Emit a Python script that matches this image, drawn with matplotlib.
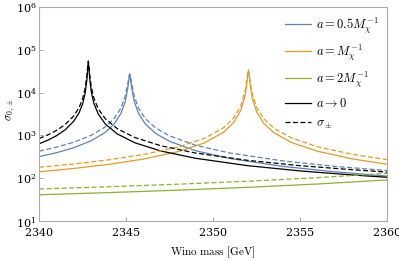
import matplotlib
matplotlib.use("Agg")
import matplotlib.pyplot as plt
from matplotlib.ticker import LogLocator, NullLocator

plt.rcParams['mathtext.fontset'] = 'cm'
plt.rcParams['font.family'] = 'serif'
plt.rcParams['font.serif'] = ['DejaVu Serif']
plt.rcParams['axes.formatter.use_mathtext'] = True

# a -> 0 (black)
m_black = [2340, 2340.5, 2341, 2341.5, 2342, 2342.3, 2342.5, 2342.65, 2342.75, 2342.8, 2342.83,
           2342.86, 2342.91, 2343.0, 2343.15, 2343.4, 2343.8, 2344.5, 2345.5, 2347, 2349, 2352,
           2355, 2358, 2360]
s_black = [636, 773, 984, 1353, 2167, 3389, 5422, 9804, 20520, 38380, 50000,
           38380, 20520, 10357, 5590, 3158, 1856, 1078, 674, 432, 292, 196,
           148, 119, 105]
s_black_pm = [845, 1026, 1306, 1797, 2876, 4494, 7180, 12905, 26235, 45180, 55000,
              45180, 26235, 13618, 7400, 4181, 2461, 1431, 895, 573, 387, 261,
              196, 158, 139]

# a = 0.5 / M (blue)
m_blue = [2340, 2341, 2342, 2343, 2343.8, 2344.3, 2344.7, 2344.95, 2345.1, 2345.18, 2345.21,
          2345.24, 2345.32, 2345.47, 2345.72, 2346.1, 2346.7, 2347.5, 2349, 2351, 2354,
          2357, 2360]
s_blue = [319, 394, 517, 751, 1176, 1820, 3230, 6200, 13040, 23480, 26000,
          23480, 13040, 6200, 3230, 1860, 1113, 725, 438, 287, 189,
          141, 112]
s_blue_pm = [428, 530, 695, 1008, 1579, 2441, 4318, 8187, 16310, 25750, 27500,
             25750, 16310, 8187, 4318, 2495, 1496, 974, 588, 385, 254,
             189, 151]

# a = 1 / M (orange)
m_orange = [2340, 2342, 2344, 2346, 2348, 2349.5, 2350.6, 2351.2, 2351.6, 2351.85, 2351.96,
            2352.0, 2352.03, 2352.06, 2352.12, 2352.25, 2352.5, 2352.9, 2353.5, 2354.5,
            2356, 2358, 2360]
s_orange = [141, 169, 211, 280, 419, 668, 1181, 2032, 3901, 9008, 19270,
            27790, 32000, 27790, 16190, 7468, 3573, 1939, 1150, 684,
            426, 283, 212]
s_orange_pm = [180, 215, 269, 358, 536, 854, 1509, 2595, 4970, 11321, 22905,
               30860, 34000, 30860, 19636, 9436, 4555, 2476, 1469, 874,
               544, 362, 271]

# a = 2 / M (green)
m_green = [2340, 2344, 2348, 2352, 2356, 2360]
s_green = [41, 46.1, 52.6, 61.2, 73.2, 91]
s_green_pm = [56, 63.2, 72.5, 85.1, 102.9, 130]

c_blue = '#5E81B5'
c_orange = '#E19C24'
c_green = '#8FB032'
c_black = '#000000'

fig = plt.figure(figsize=(3.99, 2.60), dpi=100)
ax = fig.add_axes([0.098, 0.150, 0.872, 0.823])

lw = 0.9
dash = (0, (4, 2))
ax.plot(m_blue, s_blue, color=c_blue, lw=lw, label=r'$a = 0.5M_\chi^{-1}$')
ax.plot(m_orange, s_orange, color=c_orange, lw=lw, label=r'$a = M_\chi^{-1}$')
ax.plot(m_green, s_green, color=c_green, lw=lw, label=r'$a = 2M_\chi^{-1}$')
ax.plot(m_black, s_black, color=c_black, lw=lw, label=r'$a \to 0$')
ax.plot(m_blue, s_blue_pm, color=c_blue, lw=lw, ls=dash)
ax.plot(m_orange, s_orange_pm, color=c_orange, lw=lw, ls=dash)
ax.plot(m_green, s_green_pm, color=c_green, lw=lw, ls=dash)
ax.plot(m_black, s_black_pm, color=c_black, lw=lw, ls=dash, label=r'$\sigma_\pm$')

ax.set_yscale('log')
ax.set_xlim(2340, 2360)
ax.set_ylim(10, 1e6)
ax.set_xticks([2340, 2345, 2350, 2355, 2360])
ax.yaxis.set_major_locator(LogLocator(base=10, numticks=10))
ax.yaxis.set_minor_locator(NullLocator())
ax.tick_params(direction='in', length=3, width=0.6, color='#999999', labelsize=8)
ax.tick_params(axis='x', pad=3.5)
ax.tick_params(axis='y', pad=2)

for sp in ax.spines.values():
    sp.set_color('#aaaaaa')
    sp.set_linewidth(0.8)

ax.set_xlabel(r'$\mathrm{Wino\ mass}\ [\mathrm{GeV}]$', fontsize=8, labelpad=5)
ax.set_ylabel(r'$\sigma_{0,\pm}$', fontsize=8)
ax.yaxis.set_label_coords(-0.062, 0.52)

ax.legend(loc='upper right', frameon=False, fontsize=9, handlelength=2.1,
          handletextpad=0.35, labelspacing=0.55, borderaxespad=0.3)

fig.savefig('out.png', dpi=100)
